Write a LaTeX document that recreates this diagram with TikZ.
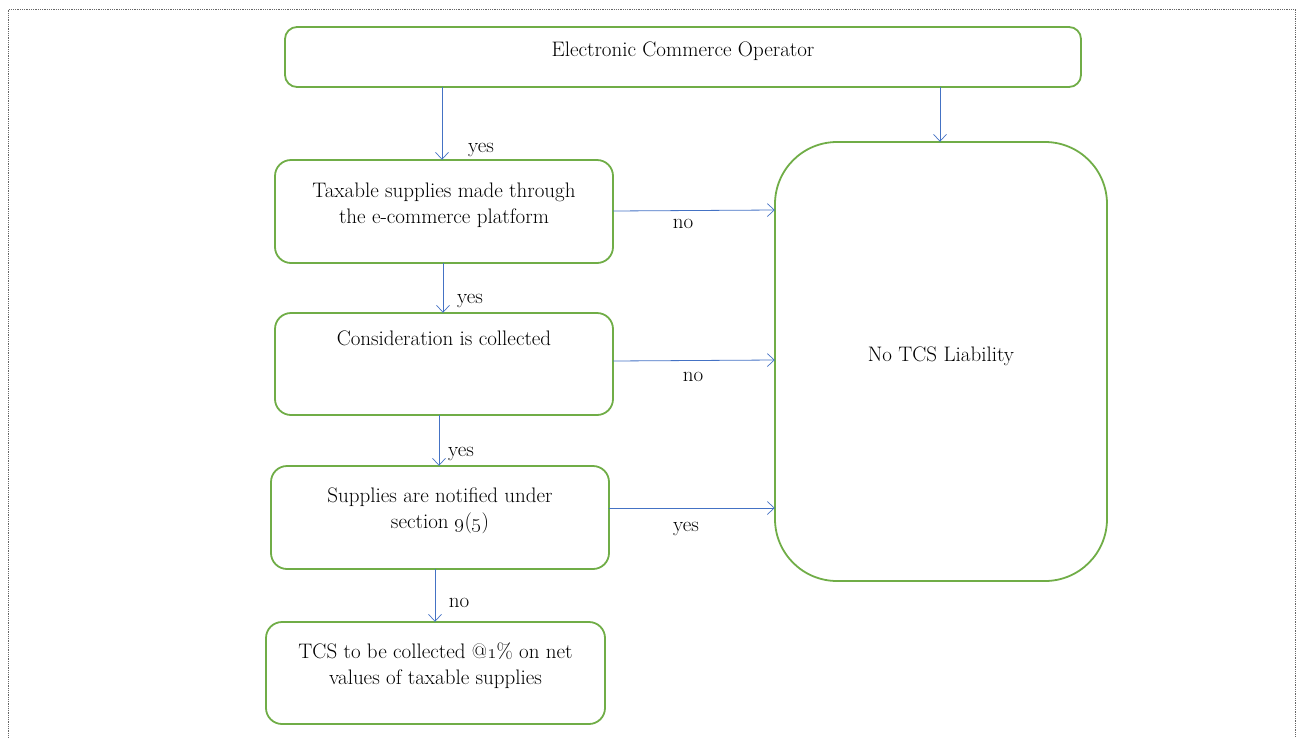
\documentclass[tikz,border=0pt]{standalone}
\usetikzlibrary{arrows.meta}
\definecolor{boxgreen}{HTML}{70AD47}
\definecolor{arrblue}{HTML}{4472C4}
\begin{document}
\begin{tikzpicture}[x=1pt,y=-1pt,
  box/.style={draw=boxgreen,line width=1.8pt,rounded corners=#1,inner sep=0pt},
  box/.default=14pt,
  txt/.style={font=\fontsize{21}{26}\selectfont,align=center,anchor=north,inner sep=0pt},
  lbl/.style={font=\fontsize{21}{26}\selectfont,inner sep=0pt},
  arr/.style={draw=arrblue,line width=0.8pt,-{Straight Barb[length=7pt,width=13pt,line width=0.7pt]}}]
\useasboundingbox (0,0) rectangle (1299,737);
\draw[gray!80!black,densely dotted,line width=0.8pt] (8.5,9.5) rectangle (1295.5,760);
% boxes
\draw[box=12pt] (285,27) rectangle (1081,87);
\node[minimum width=796pt,minimum height=60pt] (top) at (683,57) {};
\node[txt] (toptxt) at (683,42) {Electronic Commerce Operator};
\draw[box=62pt] (775,142) rectangle (1107,581);
\node[minimum width=332pt,minimum height=439pt] (big) at (941,361.5) {};
\node[lbl] (bigtxt) at (941,356) {No TCS Liability};
\draw[box=16pt] (275,160) rectangle (613,263);
\node[minimum width=338pt,minimum height=103pt] (b2) at (444,211.5) {};
\node[txt] (b2txt) at (444,183) {Taxable supplies made through\\the e-commerce platform};
\draw[box=16pt] (275,313) rectangle (613,415);
\node[minimum width=338pt,minimum height=102pt] (b3) at (444,364) {};
\node[txt] (b3txt) at (444,331) {Consideration is collected};
\draw[box=16pt] (271,466) rectangle (609,569);
\node[minimum width=338pt,minimum height=103pt] (b4) at (440,517.5) {};
\node[txt] (b4txt) at (440,488) {Supplies are notified under\\section \oldstylenums{9}(\oldstylenums{5})};
\draw[box=16pt] (266,622) rectangle (605,724);
\node[minimum width=339pt,minimum height=102pt] (b5) at (435.5,673) {};
\node[txt] (b5txt) at (435.5,643) {TCS to be collected @\oldstylenums{1}\% on net\\values of taxable supplies};
% arrows
\draw[arr] (top.south -| 442,0) -- (b2.north -| 442,0);
\draw[arr] (top.south -| 940,0) -- (big.north -| 940,0);
\draw[arr] (b2.east |- 0,211) -- (big.west |- 0,210);
\draw[arr] (b2.south -| 443,0) -- (b3.north -| 443,0);
\draw[arr] (b3.east |- 0,361) -- (big.west |- 0,360);
\draw[arr] (b3.south -| 439,0) -- (b4.north -| 439,0);
\draw[arr] (b4.east |- 0,508) -- (big.west |- 0,508);
\draw[arr] (b4.south -| 435,0) -- (b5.north -| 435,0);
% labels
\node[lbl] (l1) at (481,150) {yes};
\node[lbl] (l2) at (683,224) {no};
\node[lbl] (l3) at (470,301) {yes};
\node[lbl] (l4) at (693,377) {no};
\node[lbl] (l5) at (461,454) {yes};
\node[lbl] (l6) at (686,529) {yes};
\node[lbl] (l7) at (459,603) {no};
\end{tikzpicture}
\end{document}
